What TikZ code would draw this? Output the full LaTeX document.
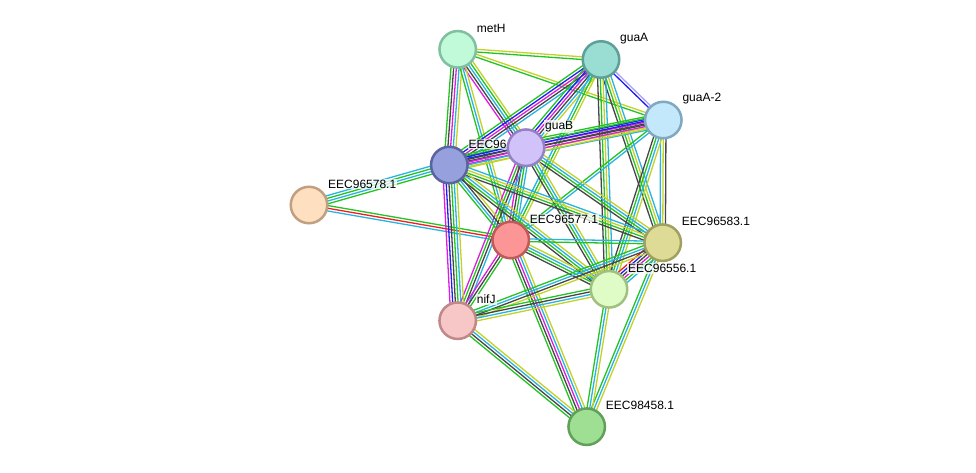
\documentclass[tikz,border=0pt]{standalone}
\usepackage{fontspec}
\setmainfont{Liberation Sans}
\usetikzlibrary{calc,backgrounds}
\definecolor{eg}{RGB}{35,195,35}
\definecolor{ec}{RGB}{40,180,225}
\definecolor{ey}{RGB}{195,210,40}
\definecolor{ek}{RGB}{70,70,70}
\definecolor{em}{RGB}{220,30,220}
\definecolor{eb}{RGB}{30,30,240}
\definecolor{er}{RGB}{240,30,30}
\definecolor{el}{RGB}{170,160,250}
\tikzset{
  prot/.style={circle, line width=2.5pt, minimum size=36.5pt, inner sep=0pt},
  plabel/.style={anchor=west, font=\fontsize{12pt}{13pt}\selectfont, fill=white, fill opacity=0.75, text opacity=1, inner sep=1pt},
  eline/.style={line width=1.3pt}
}
\newcommand\sedge[3]{%
  \foreach \c [count=\i] in {#3} {\global\let\nlines\i}%
  \foreach \c [count=\i] in {#3} {%
    \pgfmathsetmacro\o{(\i-(\nlines+1)/2)*2.7}%
    \draw[eline,\c] ($(#1.center)!\o pt!90:(#2.center)$) -- ($(#2.center)!\o pt!-90:(#1.center)$);
  }}
\begin{document}
\begin{tikzpicture}[x=1pt,y=-1pt]
\useasboundingbox (0,0) rectangle (976,472);
% nodes
\node[prot, fill={rgb,255:red,192;green,250;blue,216}, draw={rgb,255:red,128;green,192;blue,160}] (A) at (457.7,49.3) {};
\node[plabel] (Al) at (475.7,28.3) {metH};
\node[prot, fill={rgb,255:red,153;green,221;blue,211}, draw={rgb,255:red,95;green,160;blue,150}] (B) at (601,59.5) {};
\node[plabel] (Bl) at (619,38.5) {guaA};
\node[prot, fill={rgb,255:red,196;green,232;blue,251}, draw={rgb,255:red,128;green,168;blue,192}] (C) at (663.3,120) {};
\node[plabel] (Cl) at (681.3,99) {guaA-2};
\node[prot, fill={rgb,255:red,149;green,160;blue,220}, draw={rgb,255:red,90;green,100;blue,160}] (E) at (449.3,165) {};
\node[plabel] (El) at (467.3,144) {EEC96};
\node[prot, fill={rgb,255:red,210;green,194;blue,250}, draw={rgb,255:red,149;green,128;blue,200}] (D) at (526,147.7) {};
\node[plabel] (Dl) at (544,126.7) {guaB};
\node[prot, fill={rgb,255:red,254;green,223;blue,192}, draw={rgb,255:red,192;green,160;blue,128}] (F) at (309,205) {};
\node[plabel] (Fl) at (327,184) {EEC96578.1};
\node[prot, fill={rgb,255:red,252;green,149;blue,149}, draw={rgb,255:red,192;green,90;blue,90}] (G) at (510.7,240) {};
\node[plabel] (Gl) at (528.7,219) {EEC96577.1};
\node[prot, fill={rgb,255:red,221;green,219;blue,149}, draw={rgb,255:red,160;green,160;blue,96}] (H) at (662.7,242.7) {};
\node[plabel] (Hl) at (680.7,221.7) {EEC96583.1};
\node[prot, fill={rgb,255:red,224;green,252;blue,198}, draw={rgb,255:red,160;green,192;blue,128}] (I) at (609,289.3) {};
\node[plabel] (Il) at (627,268.3) {EEC96556.1};
\node[prot, fill={rgb,255:red,247;green,199;blue,199}, draw={rgb,255:red,192;green,136;blue,136}] (J) at (457.7,320.7) {};
\node[plabel] (Jl) at (475.7,299.7) {nifJ};
\node[prot, fill={rgb,255:red,158;green,223;blue,148}, draw={rgb,255:red,96;green,160;blue,88}] (K) at (586.7,426.7) {};
\node[plabel] (Kl) at (604.7,405.7) {EEC98458.1};
% edges
\begin{pgfonlayer}{background}
\sedge{F}{E}{eg,ec,eg,ec}
\sedge{F}{G}{ec,er,eg}
\sedge{A}{B}{eg,ey}
\sedge{A}{C}{eg,ey}
\sedge{A}{E}{eg,ek,em,ec,ey}
\sedge{A}{D}{em,ek,ec,eg,ey}
\sedge{A}{G}{eg,ec,ey}
\sedge{B}{C}{eb,el}
\sedge{B}{E}{eg,eb,em,ek,ec}
\sedge{B}{D}{eg,eb,em,ek,ec,ey}
\sedge{B}{G}{ec,eg,ey}
\sedge{B}{H}{ek,eg,ey,ec}
\sedge{B}{I}{ek,eg,ey,ec}
\sedge{C}{D}{eg,eb,em,ek,ey,ec}
\sedge{C}{E}{eg,eb,ek,em,ey}
\sedge{C}{G}{eg,ec}
\sedge{C}{H}{ec,ey,ek}
\sedge{C}{I}{ek,eg,ec,ey}
\sedge{D}{E}{eg,eb,ek,em,ec,ey}
\sedge{D}{G}{em,ek,eg,ec}
\sedge{D}{H}{ek,eg,ec,ey}
\sedge{D}{I}{ek,eg,ec,ey}
\sedge{D}{J}{em,eg,ek,ec}
\sedge{E}{G}{eg,ec,ek,ey}
\sedge{E}{H}{ek,eg,ey,ec}
\sedge{E}{I}{ek,eg,ec,ey}
\sedge{E}{J}{em,eb,ek,eg,ec,ey}
\sedge{G}{H}{eg,ec}
\sedge{G}{I}{ek,eg,ec,ey}
\sedge{G}{J}{em,ek,eg}
\sedge{G}{K}{eg,ek,em,ec,ey}
\sedge{H}{I}{er,eb,ek,em,eg,ec}
\sedge{H}{J}{eg,ec,ek,ey}
\sedge{H}{K}{eg,ec,ey}
\sedge{I}{J}{eg,ek,ec,ey}
\sedge{I}{K}{eg,ec,ey}
\sedge{J}{K}{eg,ek,ec,ey}
\end{pgfonlayer}
\end{tikzpicture}
\end{document}
